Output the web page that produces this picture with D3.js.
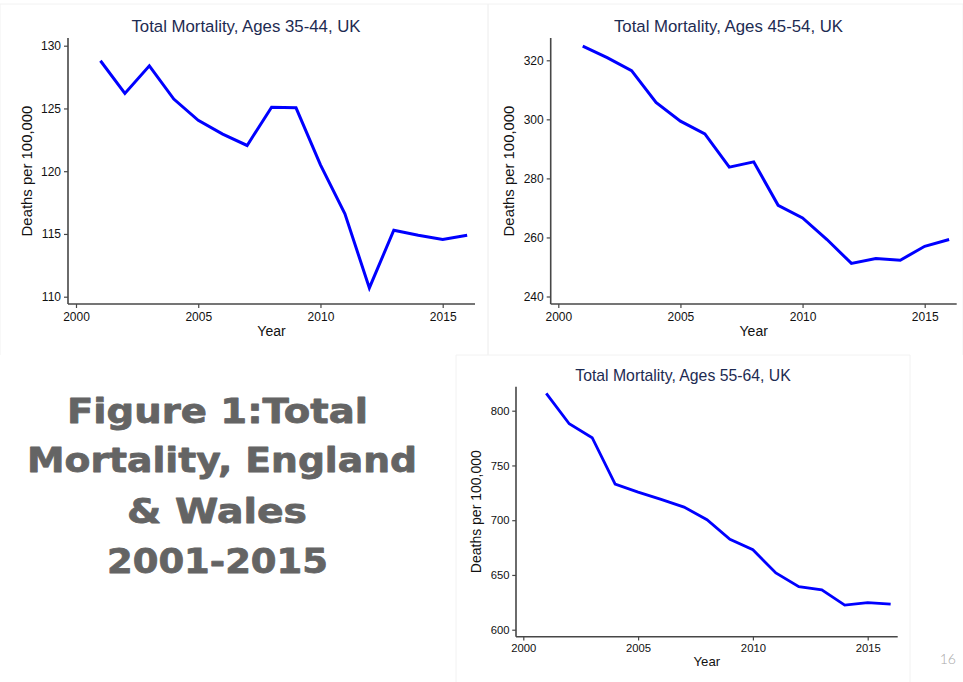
<!DOCTYPE html>
<html>
<head>
<meta charset="utf-8">
<script src="https://cdn.jsdelivr.net/npm/d3@7"></script>
<style>
  html, body { margin: 0; padding: 0; background: #fff; }
  svg { display: block; }
</style>
</head>
<body>
<script>
// Annual total mortality, deaths per 100,000, by age band
const years = [2001, 2002, 2003, 2004, 2005, 2006, 2007, 2008, 2009, 2010, 2011, 2012, 2013, 2014, 2015, 2016];
const mort3544 = [128.8, 126.2, 128.4, 125.75, 124.05, 122.95, 122.05, 125.1, 125.05, 120.5, 116.6, 110.7, 115.3, 114.9, 114.55, 114.9];
const mort4554 = [324.8, 320.9, 316.5, 305.7, 299.4, 295.1, 283.8, 285.6, 270.9, 266.6, 259.3, 251.2, 252.9, 252.3, 257.0, 259.3];
const mort5564 = [815.8, 788.1, 775.3, 733.0, 725.7, 719.0, 712.0, 700.5, 682.5, 673.0, 651.8, 639.3, 636.5, 622.5, 624.7, 623.4];

const yearTicks = [2000, 2005, 2010, 2015];
const ticks3544 = [110, 115, 120, 125, 130];
const ticks4554 = [240, 260, 280, 300, 320];
const ticks5564 = [600, 650, 700, 750, 800];

const titles = ["Total Mortality, Ages 35-44, UK", "Total Mortality, Ages 45-54, UK", "Total Mortality, Ages 55-64, UK"];
const headline = ["Figure 1:Total", "Mortality, England", "& Wales", "2001-2015"];

const W = 963, H = 682;
const svg = d3.select("body").append("svg").attr("width", W).attr("height", H);

// faint frames of the three graph images
const frames = [
  {x0: 0, x1: 488, y0: 4, y1: 355},
  {x0: 488, x1: 963, y0: 4, y1: 355},
  {x0: 456, x1: 910, y0: 355, y1: 682}
];
frames.forEach(f => {
  svg.append("path")
    .attr("d", `M${f.x0},${f.y1}V${f.y0}H${f.x1}V${f.y1}`)
    .attr("fill", "none").attr("stroke", "#f2f2f2").attr("stroke-width", 1);
});

const TITLE_COLOR = "#1d2b52";
const AXIS_COLOR = "#474747";
const LINE_COLOR = "#0000ff";
const FONT = "'Liberation Sans', Arial, Helvetica, sans-serif";

function panel(cfg) {
  const g = svg.append("g");
  const x = d3.scaleLinear().domain([2000, 2015]).range(cfg.xr);
  const y = d3.scaleLinear().domain(cfg.yd).range(cfg.yr);
  const s = cfg.scale;

  // title
  g.append("text")
    .attr("x", cfg.titleX).attr("y", cfg.titleY)
    .attr("text-anchor", "middle")
    .attr("font-family", FONT).attr("font-size", 16.8 * s)
    .attr("fill", TITLE_COLOR)
    .text(cfg.title);

  // y axis
  const ya = g.append("g")
    .attr("transform", `translate(${cfg.axisX},0)`)
    .call(d3.axisLeft(y).tickValues(cfg.yTicks).tickSize(4 * s).tickPadding(3 * s).tickFormat(d3.format("d")));
  ya.select(".domain").remove();
  ya.selectAll(".tick line").attr("stroke", AXIS_COLOR).attr("stroke-width", 1.2);
  ya.selectAll(".tick text").attr("font-family", FONT).attr("font-size", 12 * s).attr("fill", "#111");
  g.append("line")
    .attr("x1", cfg.axisX).attr("x2", cfg.axisX)
    .attr("y1", cfg.axisTop).attr("y2", cfg.axisY)
    .attr("stroke", AXIS_COLOR).attr("stroke-width", 1.6);

  // x axis
  const xa = g.append("g")
    .attr("transform", `translate(0,${cfg.axisY})`)
    .call(d3.axisBottom(x).tickValues(yearTicks).tickSize(4 * s).tickPadding(4 * s).tickFormat(d3.format("d")));
  xa.select(".domain").remove();
  xa.selectAll(".tick line").attr("stroke", AXIS_COLOR).attr("stroke-width", 1.2);
  xa.selectAll(".tick text").attr("font-family", FONT).attr("font-size", 12 * s).attr("fill", "#111");
  g.append("line")
    .attr("x1", cfg.axisX).attr("x2", cfg.axisRight)
    .attr("y1", cfg.axisY).attr("y2", cfg.axisY)
    .attr("stroke", AXIS_COLOR).attr("stroke-width", 1.6);

  // axis titles
  g.append("text")
    .attr("x", (cfg.axisX + cfg.axisRight) / 2).attr("y", cfg.yearY)
    .attr("text-anchor", "middle")
    .attr("font-family", FONT).attr("font-size", 14 * s).attr("fill", "#111")
    .text("Year");
  g.append("text")
    .attr("transform", `translate(${cfg.ylabX},${(cfg.axisTop + cfg.axisY) / 2}) rotate(-90)`)
    .attr("text-anchor", "middle")
    .attr("font-family", FONT).attr("font-size", 14.9 * s).attr("fill", "#111")
    .text("Deaths per 100,000");

  // series line
  const line = d3.line().x(d => x(d[0])).y(d => y(d[1]));
  g.append("path")
    .datum(years.map((yr, i) => [yr, cfg.values[i]]))
    .attr("d", line)
    .attr("fill", "none")
    .attr("stroke", LINE_COLOR)
    .attr("stroke-width", 3 * s)
    .attr("stroke-linejoin", "miter")
    .attr("stroke-linecap", "butt");
}

panel({
  title: titles[0], titleX: 246, titleY: 32,
  values: mort3544, yd: [110, 130], yTicks: ticks3544,
  xr: [76, 442.7], yr: [296.7, 45.7],
  axisX: 68, axisY: 304, axisTop: 38, axisRight: 475,
  yearY: 336, ylabX: 31.5, scale: 1
});

panel({
  title: titles[1], titleX: 728.5, titleY: 32,
  values: mort4554, yd: [240, 320], yTicks: ticks4554,
  xr: [558.3, 924.7], yr: [296.5, 60.3],
  axisX: 550.7, axisY: 304, axisTop: 38, axisRight: 956.7,
  yearY: 336, ylabX: 514, scale: 1
});

panel({
  title: titles[2], titleX: 683, titleY: 381,
  values: mort5564, yd: [600, 800], yTicks: ticks5564,
  xr: [523.3, 867.7], yr: [629.7, 410.7],
  axisX: 516, axisY: 636.7, axisTop: 386.7, axisRight: 897.7,
  yearY: 666, ylabX: 481, scale: 0.94
});

// headline block on the left
const head = svg.append("g")
  .attr("font-family", "'DejaVu Sans', sans-serif")
  .attr("font-weight", "bold")
  .attr("font-size", 34)
  .attr("fill", "#646464")
  .attr("stroke", "#646464")
  .attr("stroke-width", 0.8)
  .attr("stroke-linejoin", "round");
const headLines = [
  {x: 67, y: 423, w: 301},
  {x: 27, y: 472, w: 390},
  {x: 127, y: 523, w: 180},
  {x: 107, y: 573, w: 221}
];
headline.forEach((t, i) => {
  head.append("text")
    .attr("x", headLines[i].x).attr("y", headLines[i].y)
    .attr("textLength", headLines[i].w)
    .attr("lengthAdjust", "spacingAndGlyphs")
    .text(t);
});

// slide number
svg.append("text")
  .attr("x", 956).attr("y", 664)
  .attr("text-anchor", "end")
  .attr("font-family", "Lato, sans-serif").attr("font-weight", 300)
  .attr("font-size", 14).attr("fill", "#a8a8a8")
  .text("16");
</script>
</body>
</html>
